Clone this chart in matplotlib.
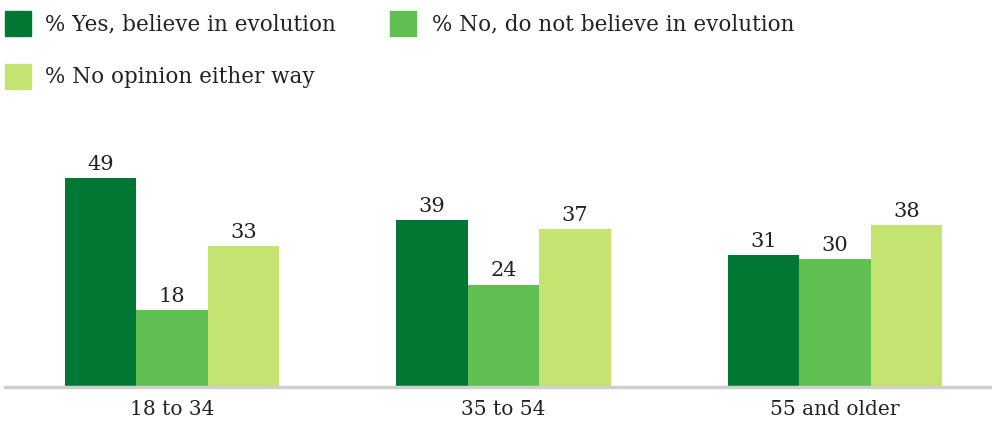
import numpy as np
import matplotlib.pyplot as plt
from matplotlib.patches import Rectangle

groups = ["18 to 34", "35 to 54", "55 and older"]
series = ["% Yes, believe in evolution", "% No, do not believe in evolution",
          "% No opinion either way"]
yes = [49, 39, 31]
no = [18, 24, 30]
no_opinion = [33, 37, 38]
colors = ["#007733", "#5fbf50", "#c5e370"]

W, H = 992, 431
plt.rcParams['font.family'] = ['DejaVu Serif']
fig = plt.figure(figsize=(W / 100, H / 100), dpi=100)

# axes placed so that baseline sits at y=388px, groups at 172/504/835px
ax = fig.add_axes([5 / W, 43 / H, 985 / W, 248 / H])
x = np.arange(len(groups))
bw = 0.216
for i, (vals, c) in enumerate(zip([yes, no, no_opinion], colors)):
    bars = ax.bar(x + (i - 1) * bw, vals, bw, color=c, label=series[i])
    for b, v in zip(bars, vals):
        ax.text(b.get_x() + b.get_width() / 2, v + 1.2, str(v),
                ha='center', va='bottom', fontsize=15, color='#222222')

ax.set_xlim(-0.504, 2.468)
ax.set_ylim(0, 248 / 4.27)
ax.set_yticks([])
ax.set_xticks(x)
ax.set_xticklabels(groups, fontsize=14.5, color='#222222')
ax.tick_params(axis='x', length=0, pad=9)
for s in ['top', 'right', 'left']:
    ax.spines[s].set_visible(False)
ax.spines['bottom'].set_color('#cfcfcc')
ax.spines['bottom'].set_linewidth(2.5)

# legend drawn by hand
leg = [(5, 12, 45), (390, 12, 432), (5, 65, 45)]
for (sx, sy, tx), lab, c in zip(leg, series, colors):
    fig.patches.append(Rectangle((sx / W, 1 - (sy + 25) / H), 26 / W, 25 / H,
                                 transform=fig.transFigure, color=c))
    fig.text(tx / W, 1 - (sy + 12) / H, lab, fontsize=15.5, va='center',
             ha='left', color='#222222')

fig.savefig('out.png', dpi=100)
